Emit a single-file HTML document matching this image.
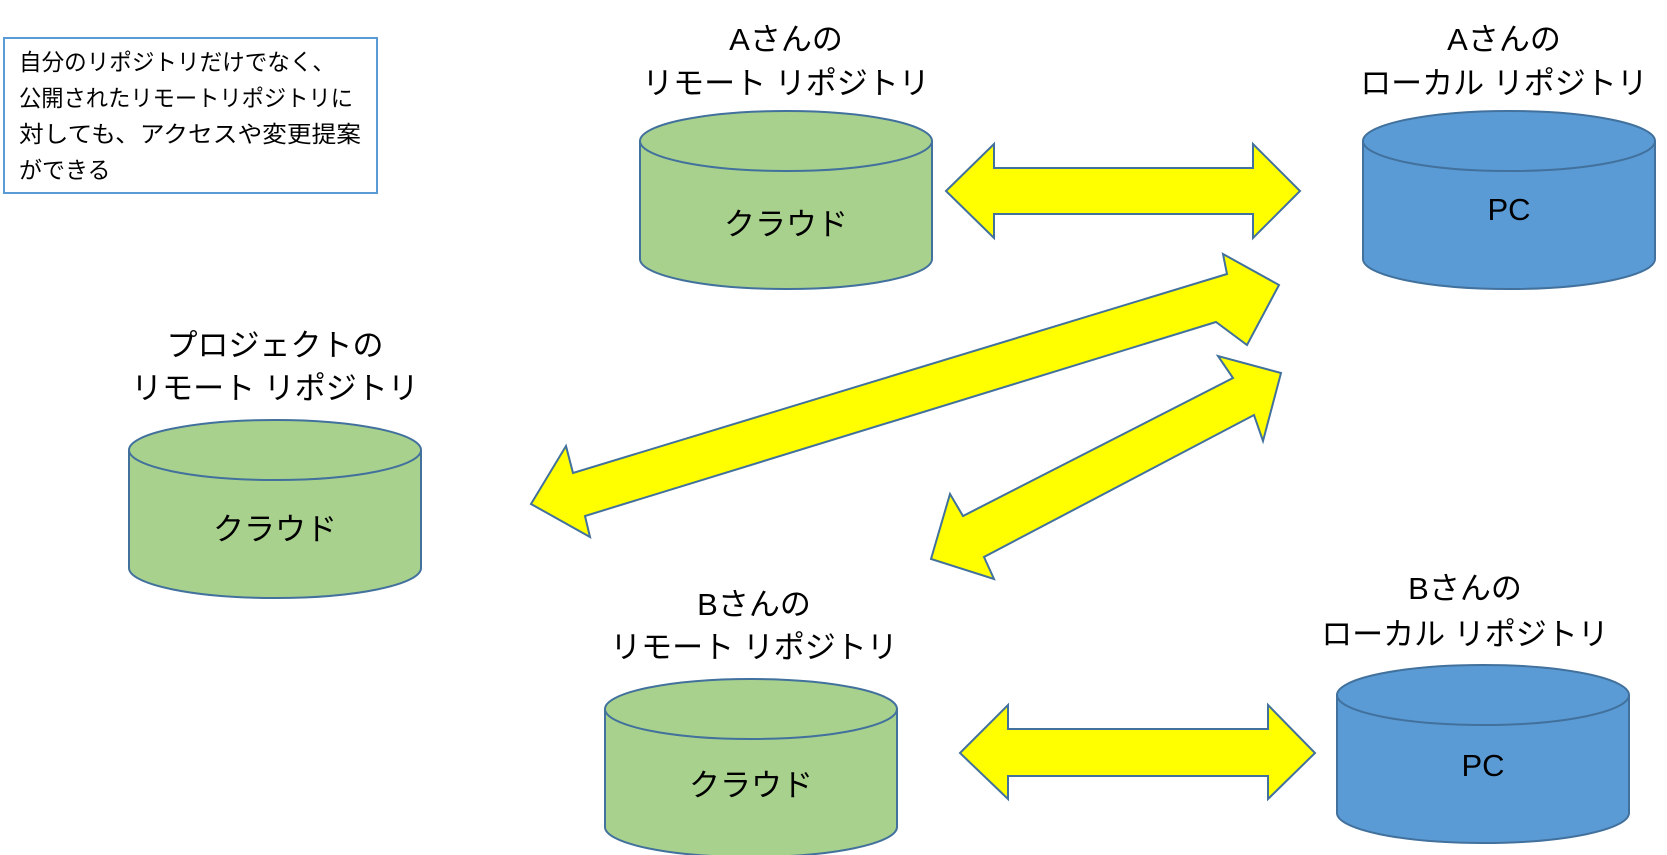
<!DOCTYPE html>
<html><head><meta charset="utf-8"><style>
html,body{margin:0;padding:0;background:#fff;}
svg{display:block;}
text{font-family:"Liberation Sans","Noto Sans CJK JP",sans-serif;fill:#000;}
</style></head><body>
<svg width="1667" height="855" viewBox="0 0 1667 855" xmlns="http://www.w3.org/2000/svg">
<defs>
<g id="cylG">
<path d="M0,30 L0,148 A146,30 0 0 0 292,148 L292,30" fill="#a9d18e" stroke="#41719c" stroke-width="2"/>
<ellipse cx="146" cy="30" rx="146" ry="30" fill="#a9d18e" stroke="#41719c" stroke-width="2"/>
</g>
<g id="cylB">
<path d="M0,30 L0,148 A146,30 0 0 0 292,148 L292,30" fill="#5b9bd5" stroke="#41719c" stroke-width="2"/>
<ellipse cx="146" cy="30" rx="146" ry="30" fill="#5b9bd5" stroke="#41719c" stroke-width="2"/>
</g>
</defs>

<rect x="4" y="38" width="373" height="155" fill="#fff" stroke="#5b9bd5" stroke-width="2"/>
<g font-size="23">
<text x="19" y="70" textLength="316" lengthAdjust="spacingAndGlyphs">自分のリポジトリだけでなく、</text>
<text x="19" y="106" textLength="334" lengthAdjust="spacingAndGlyphs">公開されたリモートリポジトリに</text>
<text x="19" y="142" textLength="342" lengthAdjust="spacingAndGlyphs">対しても、アクセスや変更提案</text>
<text x="19" y="178">ができる</text>
</g>

<g font-size="31" text-anchor="middle">
<text x="786" y="50">Aさんの</text>
<text x="786" y="94">リモート リポジトリ</text>
<text x="1504" y="50">Aさんの</text>
<text x="1504" y="94">ローカル リポジトリ</text>
<text x="275" y="356">プロジェクトの</text>
<text x="275" y="399">リモート リポジトリ</text>
<text x="754" y="615">Bさんの</text>
<text x="754" y="658">リモート リポジトリ</text>
<text x="1465" y="599">Bさんの</text>
<text x="1465" y="645">ローカル リポジトリ</text>
</g>

<use href="#cylG" x="640" y="111"/>
<use href="#cylB" x="1363" y="111"/>
<use href="#cylG" x="129" y="420"/>
<use href="#cylG" x="605" y="679"/>
<use href="#cylB" x="1337" y="665"/>

<g font-size="31" text-anchor="middle">
<text x="786" y="235">クラウド</text>
<text x="1509" y="220">PC</text>
<text x="275" y="540">クラウド</text>
<text x="751" y="796">クラウド</text>
<text x="1483" y="776">PC</text>
</g>

<g fill="#ffff00" stroke="#41719c" stroke-width="2" stroke-linejoin="miter">
<polygon points="946,191 994,144 994,168 1253,168 1253,144 1300,191 1253,238 1253,214 994,214 994,238"/>
<polygon points="960,753 1008,705 1008,729 1268,729 1268,705 1315,753 1268,799 1268,776 1008,776 1008,799"/>
<polygon points="531,504 566,446 573,473 1227,274 1223,254 1279,285 1247,345 1216,322 585,516 590,537"/>
<polygon points="931,559 950,494 963,516 1233,378 1218,356 1281,373 1263,441 1254,415 984,557 994,579"/>
</g>
</svg>
</body></html>
